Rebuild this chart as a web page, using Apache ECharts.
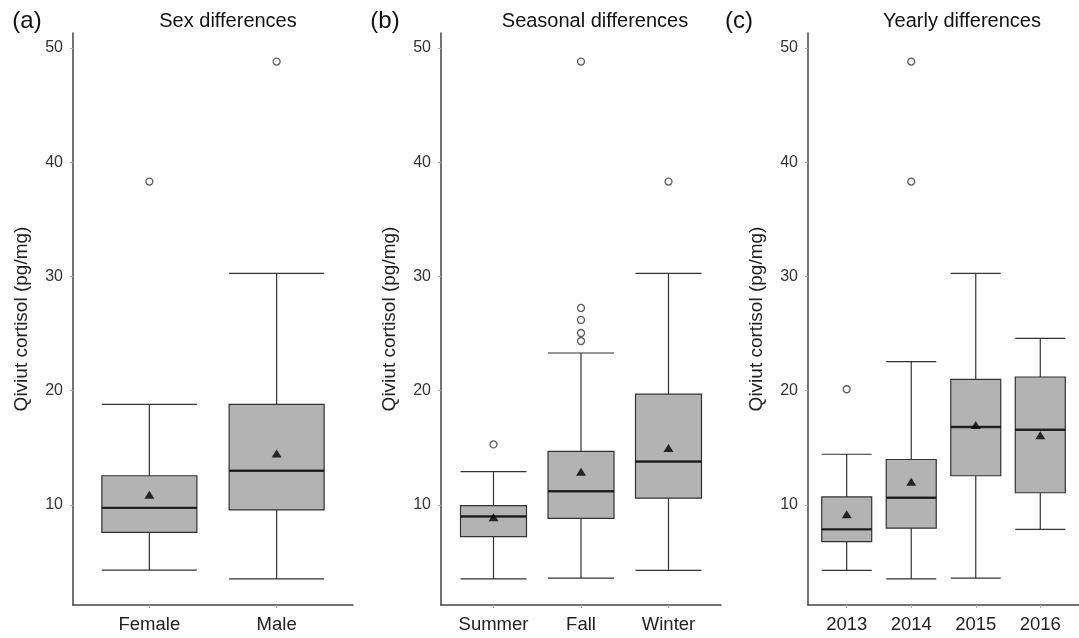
<!DOCTYPE html>
<html lang="en">
<head>
<meta charset="UTF-8">
<title>Qiviut cortisol</title>
<script src="https://cdn.jsdelivr.net/npm/echarts@6/dist/echarts.min.js"></script>
<style>
    html, body { margin: 0; background: #fff; }
    #chart { width: 1079px; height: 638px; }
</style>
</head>
<body>
<div id="chart"></div>
<script>
// (a) sex differences -- boxes are [min, Q1, median, Q3, max]
var sexCats = ['Female', 'Male'];
var sexBoxes = [[4.3, 7.6, 9.75, 12.56, 18.8], [3.53, 9.57, 13.0, 18.8, 30.27]];
var sexMeans = [10.9, 14.5];
var sexOutliers = [[0, 38.3], [1, 48.8]];

// (b) seasonal differences
var seasonCats = ['Summer', 'Fall', 'Winter'];
var seasonBoxes = [[3.53, 7.23, 9.0, 9.95, 12.92], [3.6, 8.83, 11.2, 14.69, 23.3], [4.28, 10.6, 13.8, 19.7, 30.27]];
var seasonMeans = [8.93, 12.9, 14.98];
var seasonOutliers = [[0, 15.3], [1, 24.35], [1, 25.05], [1, 26.19], [1, 27.24], [1, 48.8], [2, 38.3]];

// (c) yearly differences
var yearCats = ['2013', '2014', '2015', '2016'];
var yearBoxes = [[4.28, 6.8, 7.87, 10.71, 14.44], [3.53, 7.97, 10.64, 13.98, 22.55], [3.6, 12.56, 16.83, 21.0, 30.27], [7.87, 11.07, 16.58, 21.2, 24.58]];
var yearMeans = [9.2, 12.03, 17.0, 16.1];
var yearOutliers = [[0, 20.13], [1, 38.3], [1, 48.8]];

var yTicks = [10, 20, 30, 40, 50];

var font = '"Liberation Sans", Arial, sans-serif';

var panels = [
    { cats: sexCats, boxes: sexBoxes, means: sexMeans, outliers: sexOutliers, left: 73, boxPx: 95 },
    { cats: seasonCats, boxes: seasonBoxes, means: seasonMeans, outliers: seasonOutliers, left: 441, boxPx: 66 },
    { cats: yearCats, boxes: yearBoxes, means: yearMeans, outliers: yearOutliers, left: 808, boxPx: 50 }
];

var grids = [], xAxes = [], yAxes = [], series = [];

panels.forEach(function (p, k) {
    var pos = p.cats.map(function (c, i) { return i + 1; });
    grids.push({ left: p.left, top: 33, width: 280, height: 572 });
    xAxes.push({
        gridIndex: k, type: 'value', min: 0.4, max: p.cats.length + 0.6,
        axisLine: { lineStyle: { color: '#444', width: 1.5 } },
        axisTick: { customValues: pos, length: 3, lineStyle: { color: '#aaa' } },
        axisLabel: {
            customValues: pos, margin: 10, fontSize: 18.5, color: '#222', fontFamily: font,
            formatter: function (v) { return p.cats[Math.round(v) - 1]; }
        },
        splitLine: { show: false }
    });
    yAxes.push({
        gridIndex: k, type: 'value', min: 1.25, max: 51.3,
        axisLine: { show: true, lineStyle: { color: '#444', width: 1.5 } },
        axisTick: { customValues: yTicks, length: 3, lineStyle: { color: '#aaa' } },
        axisLabel: { customValues: yTicks, margin: 10, fontSize: 16, color: '#333', fontFamily: font },
        splitLine: { show: false },
        name: 'Qiviut cortisol (pg/mg)', nameLocation: 'middle', nameGap: 42,
        nameTextStyle: { fontSize: 19, color: '#222', fontFamily: font }
    });

    series.push({
        type: 'boxplot', xAxisIndex: k, yAxisIndex: k,
        boxWidth: [p.boxPx, p.boxPx],
        data: p.boxes.map(function (b, i) { return [i + 1].concat(b); }),
        itemStyle: { color: '#b3b3b3', borderColor: '#333', borderWidth: 1.2 },
        emphasis: { disabled: true }
    });
    // thicker median bar drawn over the box
    series.push({
        type: 'scatter', xAxisIndex: k, yAxisIndex: k, z: 4,
        data: p.boxes.map(function (b, i) { return [i + 1, b[2]]; }),
        symbol: 'rect', symbolSize: [p.boxPx, 2.4],
        itemStyle: { color: '#111' }, silent: true
    });
    series.push({
        type: 'scatter', xAxisIndex: k, yAxisIndex: k, z: 5,
        data: p.means.map(function (m, i) { return [i + 1, m]; }),
        symbol: 'triangle', symbolSize: [10, 8],
        itemStyle: { color: '#000' }, silent: true
    });
    series.push({
        type: 'scatter', xAxisIndex: k, yAxisIndex: k, z: 5,
        data: p.outliers.map(function (o) { return [o[0] + 1, o[1]]; }),
        symbol: 'circle', symbolSize: 7,
        itemStyle: { color: '#fff', borderColor: '#333', borderWidth: 1.3 }, silent: true
    });
});

var titleText = function (x, text, size) {
    return { type: 'text', x: x, y: 21, style: { text: text, fill: '#111', font: size + 'px ' + font, textAlign: 'center', textVerticalAlign: 'middle' } };
};

var chart = echarts.init(document.getElementById('chart'));
chart.setOption({
    animation: false,
    grid: grids,
    xAxis: xAxes,
    yAxis: yAxes,
    series: series,
    graphic: [
        titleText(27, '(a)', 24), titleText(228, 'Sex differences', 20),
        titleText(385, '(b)', 24), titleText(595, 'Seasonal differences', 20),
        titleText(739, '(c)', 24), titleText(962, 'Yearly differences', 20)
    ]
});
</script>
</body>
</html>
